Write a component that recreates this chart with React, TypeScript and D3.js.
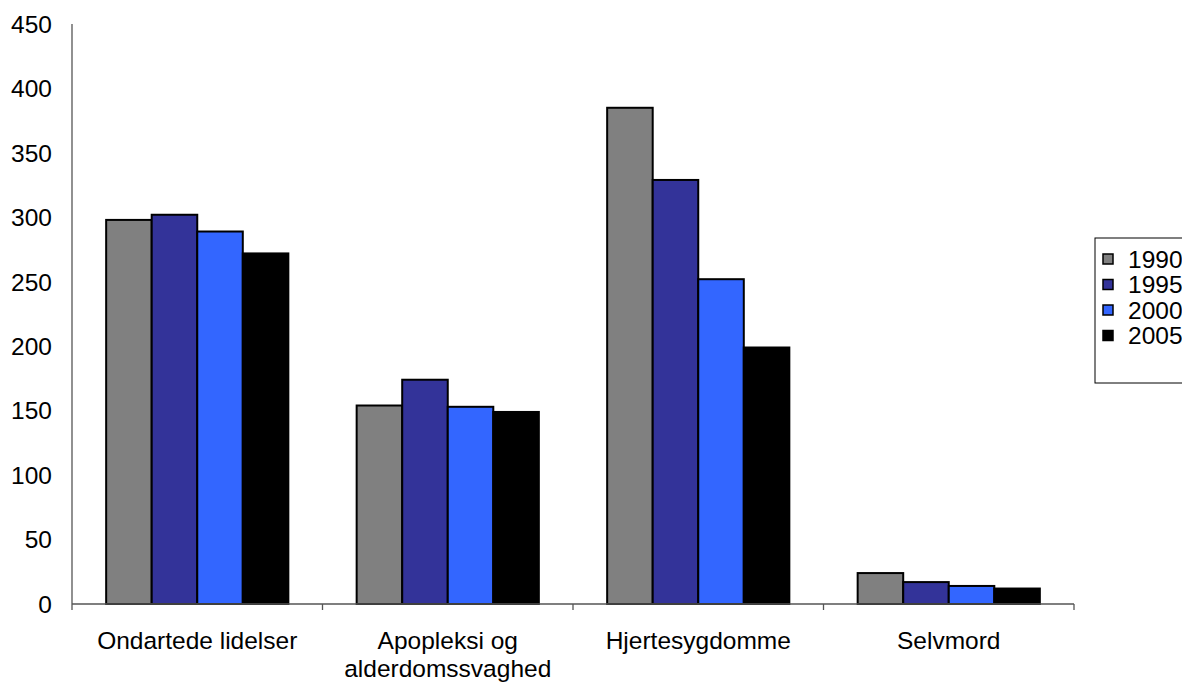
import { useEffect, useRef } from "react";
import * as d3 from "d3";

const categories = ["Ondartede lidelser", "Apopleksi og alderdomssvaghed", "Hjertesygdomme", "Selvmord"];
const categoryLines = [["Ondartede lidelser"], ["Apopleksi og", "alderdomssvaghed"], ["Hjertesygdomme"], ["Selvmord"]];
const years = ["1990", "1995", "2000", "2005"];
const values1990 = [298, 154, 385, 24];
const values1995 = [302, 174, 329, 17];
const values2000 = [289, 153, 252, 14];
const values2005 = [272, 149, 199, 12];
const colors = ["#808080", "#333399", "#3366ff", "#000000"];
const yTicks = [0, 50, 100, 150, 200, 250, 300, 350, 400, 450];

function App() {
  const ref = useRef<SVGSVGElement>(null);

  useEffect(() => {
    const svg = d3.select(ref.current);
    svg.selectAll("*").remove();
    const font = "'Liberation Sans', Arial, sans-serif";
    const fs = 24.5;
    const left = 72, right = 1074, top = 24, bottom = 604;
    const series = [values1990, values1995, values2000, values2005];

    const x = d3.scaleBand().domain(categories).range([left, right]).paddingInner(0).paddingOuter(0);
    const y = d3.scaleLinear().domain([0, 450]).range([bottom, top]);
    const bw = x.bandwidth() / 5.5;

    // y axis
    svg.append("line").attr("x1", left).attr("x2", left).attr("y1", top).attr("y2", bottom)
      .attr("stroke", "#555").attr("stroke-width", 1.3);
    svg.append("g").selectAll("text").data(yTicks).join("text")
      .attr("x", 52).attr("y", d => y(d)).attr("dy", "0.36em")
      .attr("text-anchor", "end").attr("font-family", font).attr("font-size", fs)
      .text(d => d);

    // bars
    series.forEach((vals, si) => {
      svg.append("g").selectAll("rect").data(vals).join("rect")
        .attr("x", (d, i) => x(categories[i])! + bw * 0.75 + si * bw)
        .attr("y", d => y(d))
        .attr("width", bw)
        .attr("height", d => bottom - y(d))
        .attr("fill", colors[si])
        .attr("stroke", "#000").attr("stroke-width", 2);
    });

    // x axis
    svg.append("line").attr("x1", left).attr("x2", right).attr("y1", bottom).attr("y2", bottom)
      .attr("stroke", "#555").attr("stroke-width", 1.3);
    const bounds = categories.map(c => x(c)!).concat([right]);
    svg.append("g").selectAll("line").data(bounds).join("line")
      .attr("x1", d => d).attr("x2", d => d).attr("y1", bottom).attr("y2", bottom + 6)
      .attr("stroke", "#555").attr("stroke-width", 1.3);

    const lab = svg.append("g").selectAll("text").data(categoryLines).join("text")
      .attr("x", (d, i) => x(categories[i])! + x.bandwidth() / 2)
      .attr("y", 649)
      .attr("text-anchor", "middle").attr("font-family", font).attr("font-size", fs);
    lab.selectAll("tspan").data(d => d).join("tspan")
      .attr("x", function () { return (this.parentNode as SVGTextElement).getAttribute("x"); })
      .attr("dy", (d, i) => (i === 0 ? 0 : 28))
      .text(d => d);

    // legend
    const lg = svg.append("g");
    lg.append("rect").attr("x", 1095).attr("y", 238).attr("width", 100).attr("height", 145)
      .attr("fill", "#fff").attr("stroke", "#000").attr("stroke-width", 1);
    years.forEach((yr, i) => {
      const cy = 259 + i * 25.5;
      lg.append("rect").attr("x", 1103).attr("y", cy - 5).attr("width", 10).attr("height", 10)
        .attr("fill", colors[i]).attr("stroke", "#000").attr("stroke-width", 1.5);
      lg.append("text").attr("x", 1128).attr("y", cy).attr("dy", "0.36em")
        .attr("font-family", font).attr("font-size", fs).text(yr);
    });
  }, []);

  return (
    <svg ref={ref} width={1182} height={683}
      style={{ position: "absolute", left: 0, top: 0, background: "#fff" }} />
  );
}

export default App;
